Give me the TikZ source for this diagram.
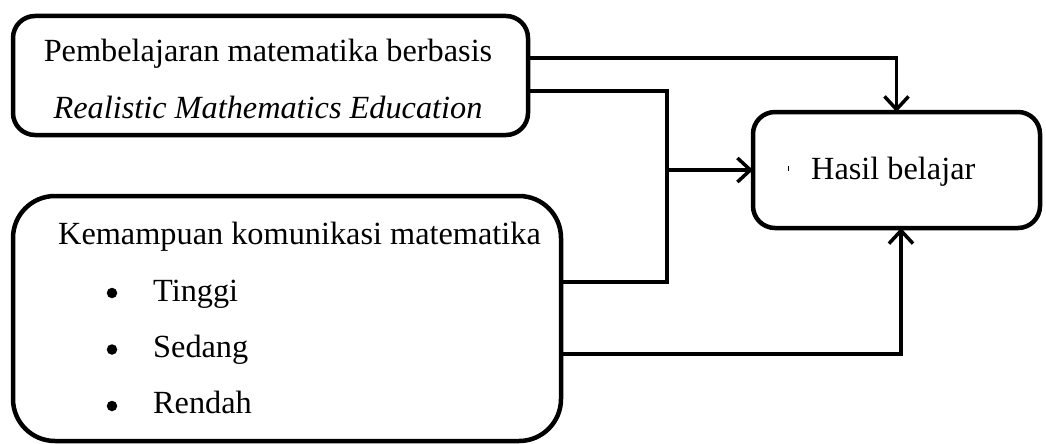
\documentclass[tikz,border=0pt]{standalone}
\usepackage{fontspec}
\setmainfont{Liberation Serif}
\usetikzlibrary{arrows.meta}
\begin{document}
\begin{tikzpicture}[x=1pt,y=-1pt,
  box/.style={draw=black, line width=4.5pt, inner sep=0pt, outer sep=0pt},
  conn/.style={draw=black, line width=3.5pt},
  arr/.style={conn, -{Straight Barb[length=13pt,width=24pt]}},
  txt/.style={inner sep=0pt, font=\fontsize{32.3}{36}\selectfont},
  dot/.style={circle, fill=black, inner sep=0pt, minimum size=10.5pt}
]
\useasboundingbox (0,0) rectangle (1046,444);
% boxes
\node[box, rounded corners=22pt, minimum width=515pt, minimum height=119pt] (b1) at (270.5,75.5) {};
\node[box, rounded corners=42pt, minimum width=548pt, minimum height=245pt] (b2) at (287,318.5) {};
\node[box, rounded corners=22pt, minimum width=287pt, minimum height=116pt] (b3) at (896.5,170) {};
% texts
\node[txt, anchor=base] (t1) at (268,61) {Pembelajaran matematika berbasis};
\node[txt, anchor=base] (t2) at (268,118) {\itshape Realistic Mathematics Education};
\node[txt, anchor=base west] (k0) at (58,244) {Kemampuan komunikasi matematika};
\node[dot] (d1) at (112,293) {};
\node[txt, anchor=base west] (k1) at (153,301) {Tinggi};
\node[dot] (d2) at (112,349.5) {};
\node[txt, anchor=base west] (k2) at (153,357) {Sedang};
\node[dot] (d3) at (112,406) {};
\node[txt, anchor=base west] (k3) at (153,413) {Rendah};
\node[txt, anchor=base west] (h) at (811,179) {Hasil belajar};
\draw[line width=0.8pt] (788,166) -- (788,171);
% connectors
\coordinate (j) at (667,170);
\draw[arr] ([yshift=17.5pt]b1.east) -| (b3.north);
\draw[conn] ([yshift=-15.5pt]b1.east) -| (j) |- ([yshift=36.5pt]b2.east);
\draw[arr] (j) -- (b3.west);
\draw[arr] ([yshift=-35.5pt]b2.east) -| ([xshift=4.5pt]b3.south);
\end{tikzpicture}
\end{document}
